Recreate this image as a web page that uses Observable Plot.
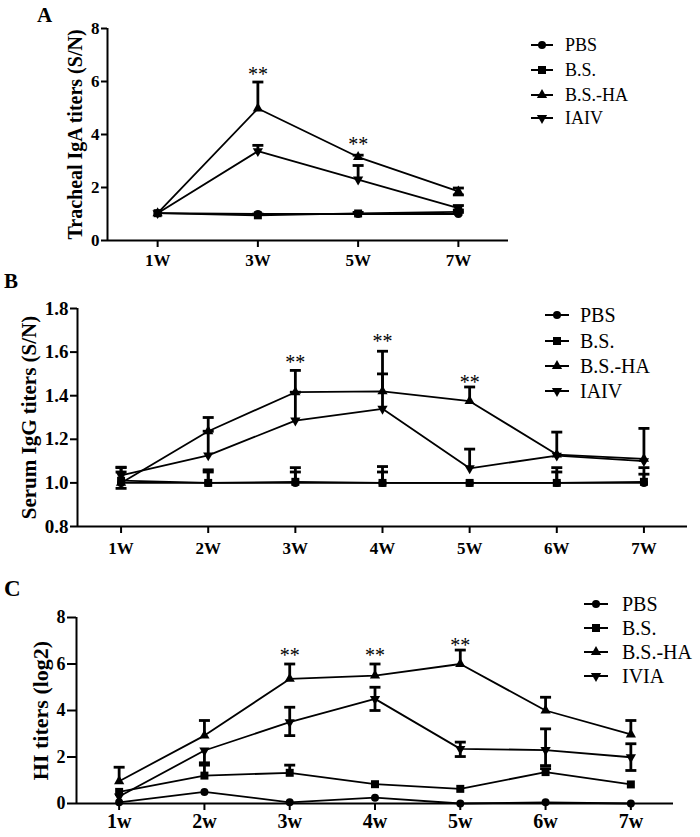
<!DOCTYPE html>
<html><head><meta charset="utf-8">
<script src="https://cdn.jsdelivr.net/npm/d3@7"></script>
<script src="https://cdn.jsdelivr.net/npm/@observablehq/plot@0.6"></script>
<style>
body{margin:0;background:#fff;}
#wrap{position:relative;width:700px;height:837px;overflow:hidden;}
.panel{position:absolute;left:0;}
#overlay{position:absolute;left:0;top:0;pointer-events:none;}
</style></head><body><div id="wrap"></div>
<script>
// ---------- Panel A data ----------
const weeksA = ["1W","3W","5W","7W"];
const groupsA = ["PBS","B.S.","B.S.-HA","IAIV"];
const pbsA   = [1.03, 1.00, 1.00, 1.00];
const pbsA_hi = [null, null, null, 1.06];
const bsA    = [1.03, 0.95, 1.02, 1.08];
const bsA_hi = [null, 1.00, 1.06, 1.15];
const bshaA  = [1.03, 4.98, 3.15, 1.85];
const bshaA_hi = [null, 5.98, 3.22, 1.98];
const bshaA_lo = [null, null, null, 1.72];
const iaivA  = [1.03, 3.37, 2.30, 1.22];
const iaivA_hi = [null, 3.59, 2.83, 1.32];
const starsA_idx = [1, 2];
const starsA_y = [6.27, 3.63];
const yTicksA = [0, 2, 4, 6, 8];

// ---------- Panel B data ----------
const weeksB = ["1W","2W","3W","4W","5W","6W","7W"];
const groupsB = ["PBS","B.S.","B.S.-HA","IAIV"];
const pbsB   = [1.00, 1.00, 1.00, 1.00, 1.00, 1.00, 1.00];
const pbsB_hi = [1.05, 1.05, 1.05, 1.05, null, 1.05, 1.04];
const bsB    = [1.01, 1.00, 1.005, 1.00, 1.00, 1.00, 1.005];
const bsB_hi = [1.07, 1.06, 1.07, 1.075, null, 1.07, 1.07];
const bshaB  = [1.00, 1.237, 1.416, 1.42, 1.375, 1.13, 1.11];
const bshaB_hi = [null, 1.30, 1.516, 1.604, 1.44, 1.233, 1.25];
const bshaB_lo = [0.975, null, null, null, null, null, null];
const iaivB  = [1.034, 1.126, 1.286, 1.34, 1.067, 1.125, 1.10];
const iaivB_hi = [1.072, 1.237, 1.416, 1.50, 1.155, null, null];
const starsB_idx = [2, 3, 4];
const starsB_y = [1.552, 1.65, 1.46];
const yTicksB = [0.8, 1.0, 1.2, 1.4, 1.6, 1.8];

// ---------- Panel C data ----------
const weeksC = ["1w","2w","3w","4w","5w","6w","7w"];
const groupsC = ["PBS","B.S.","B.S.-HA","IVIA"];
const pbsC   = [0.05, 0.50, 0.05, 0.25, 0.00, 0.05, 0.00];
const bsC    = [0.50, 1.20, 1.32, 0.83, 0.63, 1.35, 0.82];
const bsC_hi = [null, 1.75, 1.65, null, null, 1.50, null];
const bshaC  = [0.96, 2.92, 5.36, 5.50, 6.00, 4.00, 2.97];
const bshaC_hi = [1.56, 3.57, 6.00, 6.00, 6.60, 4.57, 3.57];
const iviaC  = [0.30, 2.28, 3.50, 4.50, 2.35, 2.30, 1.99];
const iviaC_hi = [null, null, 4.14, 5.00, 2.64, 3.21, 2.57];
const iviaC_lo = [null, 1.65, 2.92, 4.00, 2.02, 1.63, 1.42];
const starsC_idx = [2, 3, 4];
const starsC_y = [6.38, 6.38, 6.80];
const yTicksC = [0, 2, 4, 6, 8];

const none7 = [null,null,null,null,null,null,null];
const none4 = [null,null,null,null];

const FONT = "'Liberation Serif','Times New Roman',serif";
const capSymbol = { draw(ctx, size) { ctx.moveTo(-5.5, 0); ctx.lineTo(5.5, 0); } };
const SYMS = ["circle","square","triangle","triangle"];
const RADII = [4, 4.5, 3.8, 3.8];

function build(groups, ys, his, los) {
  const rows = [], errs = [], caps = [];
  groups.forEach((g, gi) => {
    ys[gi].forEach((v, i) => {
      rows.push({g, i, y: v});
      const hi = his[gi][i], lo = los[gi][i];
      if (hi != null || lo != null) {
        errs.push({i, y1: lo ?? v, y2: hi ?? v});
        if (hi != null) caps.push({i, y: hi});
        if (lo != null) caps.push({i, y: lo});
      }
    });
  });
  return {rows, errs, caps};
}

function panel(c) {
  const {rows, errs, caps} = build(c.groups, c.ys, c.his, c.los);
  const n = c.weeks.length;
  const stars = c.starIdx.map((i, k) => ({i, y: c.starY[k]}));
  return Plot.plot({
    width: 700, height: c.height,
    marginLeft: c.ml, marginRight: c.mr, marginTop: c.mt, marginBottom: c.mb,
    style: {background: "transparent", color: "black", fontFamily: FONT, overflow: "visible"},
    x: {type: "linear", domain: [-0.5, n - 0.5]},
    y: {domain: c.yDomain},
    marks: [
      Plot.axisX({ticks: d3.range(n), tickFormat: i => c.weeks[i], tickSize: 7, tickPadding: c.xPad,
        fontSize: c.xFont, fontWeight: "bold", fontFamily: FONT, strokeWidth: 2, label: null}),
      Plot.axisY({ticks: c.yTicks, tickFormat: c.yFmt, tickSize: c.yTickSize, tickPadding: 2,
        fontSize: c.yFont, fontWeight: "bold", fontFamily: FONT, strokeWidth: 2, label: null}),
      Plot.ruleY([c.yDomain[0]], {strokeWidth: 2}),
      Plot.ruleX([-0.5], {strokeWidth: 2}),
      Plot.text([c.ylabel], {text: d => d, frameAnchor: "left", textAnchor: "middle", lineAnchor: "middle",
        rotate: -90, dx: c.labelDx, fontSize: c.labelFont, fontWeight: "bold", fontFamily: FONT}),
      Plot.line(rows, {x: "i", y: "y", z: "g", stroke: "black", strokeWidth: 1.8}),
      Plot.ruleX(errs, {x: "i", y1: "y1", y2: "y2", stroke: "black", strokeWidth: 2.8}),
      Plot.dot(caps, {x: "i", y: "y", symbol: capSymbol, fill: "none", stroke: "black", strokeWidth: 2.8, r: 3}),
      ...c.groups.map((g, gi) => Plot.dot(rows.filter(d => d.g === g), {
        x: "i", y: "y", symbol: SYMS[gi], rotate: gi === 3 ? 180 : 0, fill: "black", stroke: "none", r: RADII[gi]})),
      Plot.text(stars, {x: "i", y: "y", text: () => "**", fontSize: 20, fontFamily: FONT, lineAnchor: "middle"})
    ]
  });
}

const wrap = document.getElementById("wrap");
function place(el, top) { const d = document.createElement("div"); d.className = "panel"; d.style.top = top + "px"; d.appendChild(el); wrap.appendChild(d); }

place(panel({
  weeks: weeksA, groups: groupsA,
  ys: [pbsA, bsA, bshaA, iaivA], his: [pbsA_hi, bsA_hi, bshaA_hi, iaivA_hi], los: [none4, none4, bshaA_lo, none4],
  starIdx: starsA_idx, starY: starsA_y,
  height: 270, ml: 107, mr: 192, mt: 28, mb: 30,
  yDomain: [0, 8], yTicks: yTicksA, yFmt: d3.format("d"), yTickSize: 6,
  xPad: 6, xFont: 17, yFont: 17,
  ylabel: "Tracheal IgA titers (S/N)", labelDx: -32, labelFont: 20
}), 0);

place(panel({
  weeks: weeksB, groups: groupsB,
  ys: [pbsB, bsB, bshaB, iaivB], his: [pbsB_hi, bsB_hi, bshaB_hi, iaivB_hi], los: [none7, none7, bshaB_lo, none7],
  starIdx: starsB_idx, starY: starsB_y,
  height: 290, ml: 77, mr: 13, mt: 38, mb: 34,
  yDomain: [0.8, 1.8], yTicks: yTicksB, yFmt: d3.format(".1f"), yTickSize: 7,
  xPad: 8, xFont: 17, yFont: 19,
  ylabel: "Serum IgG titers (S/N)", labelDx: -48, labelFont: 21
}), 270);

place(panel({
  weeks: weeksC, groups: groupsC,
  ys: [pbsC, bsC, bshaC, iviaC], his: [none7, bsC_hi, bshaC_hi, iviaC_hi], los: [none7, none7, none7, iviaC_lo],
  starIdx: starsC_idx, starY: starsC_y,
  height: 277, ml: 76, mr: 27, mt: 57, mb: 34,
  yDomain: [0, 8], yTicks: yTicksC, yFmt: d3.format("d"), yTickSize: 9,
  xPad: 3, xFont: 20, yFont: 18,
  ylabel: "HI titers (log2)", labelDx: -36, labelFont: 22
}), 560);

// ---------- overlay: panel letters and legends ----------
const svg = d3.select(wrap).append("svg").attr("id", "overlay").attr("width", 700).attr("height", 837)
  .style("font-family", FONT);
[["A", 37, 22, 21], ["B", 4, 288, 21], ["C", 4, 596, 23]].forEach(([t, x, y, fs]) =>
  svg.append("text").attr("x", x).attr("y", y).attr("font-size", fs).attr("font-weight", "bold").text(t));

const d3syms = [d3.symbolCircle, d3.symbolSquare, d3.symbolTriangle, d3.symbolTriangle];
function legend(groups, mx, half, tx, ys, fs) {
  groups.forEach((g, gi) => {
    const y = ys[gi];
    svg.append("line").attr("x1", mx - half).attr("x2", mx + half).attr("y1", y).attr("y2", y)
      .attr("stroke", "black").attr("stroke-width", 2);
    svg.append("path").attr("d", d3.symbol(d3syms[gi], Math.PI * RADII[gi] * RADII[gi])())
      .attr("transform", `translate(${mx},${y}) rotate(${gi === 3 ? 180 : 0})`).attr("fill", "black");
    svg.append("text").attr("x", tx).attr("y", y).attr("dy", "0.33em").attr("font-size", fs).text(g);
  });
}
legend(groupsA, 542, 11, 565, [45, 70, 95, 118], 18);
legend(groupsB, 557, 12, 580, [315, 341, 366, 391], 20);
legend(groupsC, 596, 12, 622, [604, 628, 652, 676], 20);
</script></body></html>
